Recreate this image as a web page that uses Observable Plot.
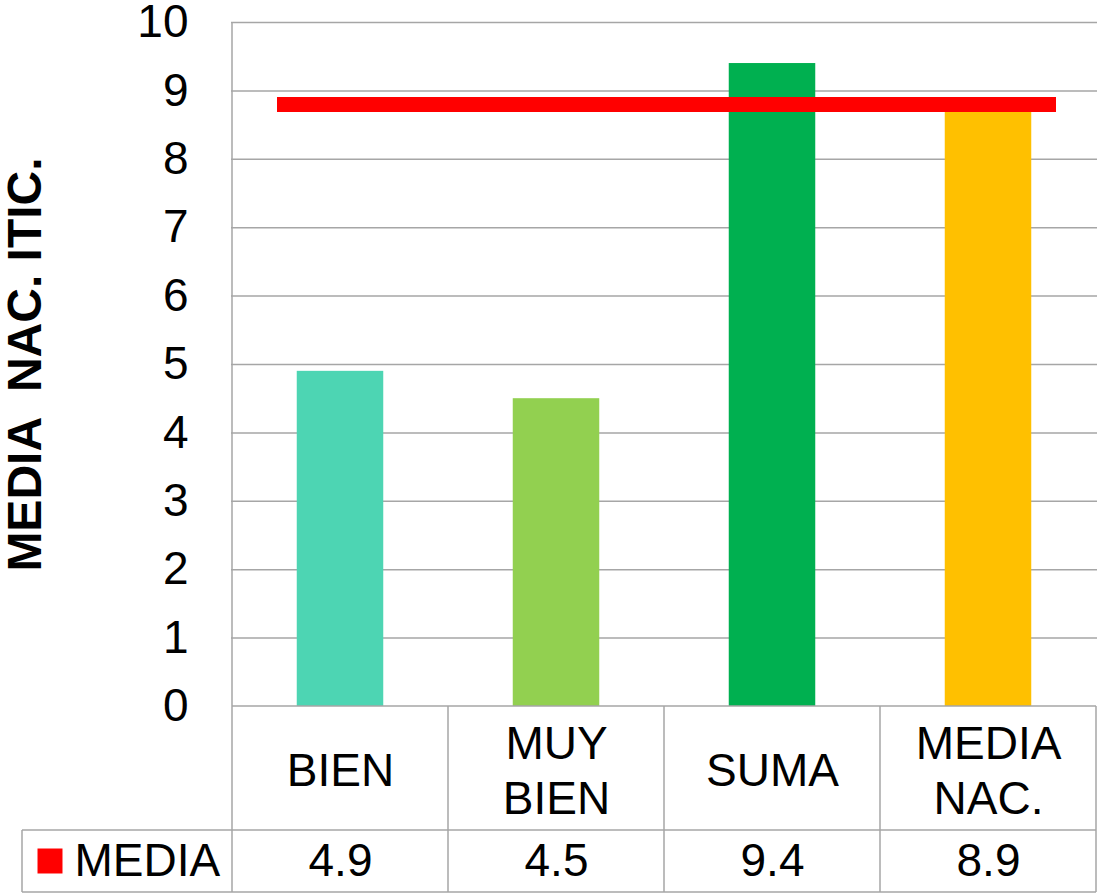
<!DOCTYPE html>
<html>
<head>
<meta charset="utf-8">
<script src="https://cdn.jsdelivr.net/npm/d3@7"></script>
<script src="https://cdn.jsdelivr.net/npm/@observablehq/plot@0.6"></script>
<style>
  html, body { margin: 0; padding: 0; background: #fff; }
  svg text { white-space: pre; }
</style>
</head>
<body>
<div id="chart"></div>
<script>
// ---- data ----
const categories = ["BIEN", "MUY BIEN", "SUMA", "MEDIA NAC."];
const categoryLabels = ["BIEN", "MUY\nBIEN", "SUMA", "MEDIA\nNAC."];
const mediaValues = [4.9, 4.5, 9.4, 8.9];
const valueLabels = ["4.9", "4.5", "9.4", "8.9"];
const barColors = ["#4dd5b3", "#92d050", "#00b050", "#ffc000"];
const referenceLine = 8.8;
const yTicks = [0, 1, 2, 3, 4, 5, 6, 7, 8, 9, 10];
const seriesName = "MEDIA";
const yTitle = "MEDIA  NAC. ITIC.";

const data = categories.map((c, i) => ({cat: c, label: categoryLabels[i], value: mediaValues[i], text: valueLabels[i]}));

const FONT = "'Liberation Sans', Arial, sans-serif";
const grid = "#a6a6a6";

const plot = Plot.plot({
  width: 1102,
  height: 894,
  marginTop: 22,
  marginBottom: 188,
  marginLeft: 231,
  marginRight: 5,
  style: {fontFamily: FONT, background: "#fff", overflow: "visible"},
  x: {type: "band", domain: categories, padding: 0, axis: null},
  y: {domain: [0, 10], axis: null},
  color: {domain: categories, range: barColors},
  marks: [
    Plot.gridY(yTicks.filter(t => t > 0), {stroke: grid, strokeOpacity: 1, strokeWidth: 1.5}),
    Plot.axisY(yTicks, {tickSize: 0, tickPadding: 43, fontSize: 46, fill: "#000", label: null, tickFormat: d => String(d)}),
    Plot.barY(data, {x: "cat", y: "value", fill: "cat", insetLeft: 64.75, insetRight: 64.75}),
    Plot.ruleY([referenceLine], {stroke: "#ff0000", strokeWidth: 15, insetLeft: 46, insetRight: 41}),
    // y title
    Plot.text([yTitle], {frameAnchor: "left", rotate: -90, dx: -206, fontSize: 48, fontWeight: "bold", fill: "#000", textAnchor: "middle", lineAnchor: "middle"}),
    // data table: category labels
    Plot.text(data, {x: "cat", text: "label", frameAnchor: "bottom", dy: 62, fontSize: 46, lineHeight: 1.2, lineAnchor: "middle", fill: "#000"}),
    // data table: values
    Plot.text(data, {x: "cat", text: "text", frameAnchor: "bottom", dy: 155, fontSize: 46, lineAnchor: "middle", fill: "#000"}),
    // legend key
    Plot.dot([seriesName], {frameAnchor: "bottom-left", dx: -181.5, dy: 154.5, symbol: "square", r: 14.1, fill: "#ff0000", stroke: null}),
    Plot.text([seriesName], {frameAnchor: "bottom-left", dx: -157, dy: 155, fontSize: 46, textAnchor: "start", lineAnchor: "middle", fill: "#000"})
  ]
});

document.getElementById("chart").appendChild(plot);

// ---- table / axis lines from the plot's own scales ----
const sx = plot.scale("x");
const sy = plot.scale("y");
const bw = sx.bandwidth;
const edges = categories.map(c => sx.apply(c));
edges.push(edges[edges.length - 1] + bw);
const y0 = sy.apply(0), y10 = sy.apply(10);
const row1 = y0 + 124, row2 = y0 + 186;
const legendLeft = 22;

const svg = d3.select(plot);
const g = svg.append("g").attr("stroke", grid).attr("stroke-width", 1.5).attr("fill", "none");
const seg = (x1, y1, x2, y2) => g.append("line").attr("x1", x1).attr("y1", y1).attr("x2", x2).attr("y2", y2);
seg(edges[0], y10, edges[0], row2);
edges.slice(1).forEach(x => seg(x, y0, x, row2));
seg(legendLeft, row1, legendLeft, row2);
seg(edges[0], y0, edges[edges.length - 1], y0);
seg(legendLeft, row1, edges[edges.length - 1], row1);
seg(legendLeft, row2, edges[edges.length - 1], row2);
</script>
</body>
</html>
